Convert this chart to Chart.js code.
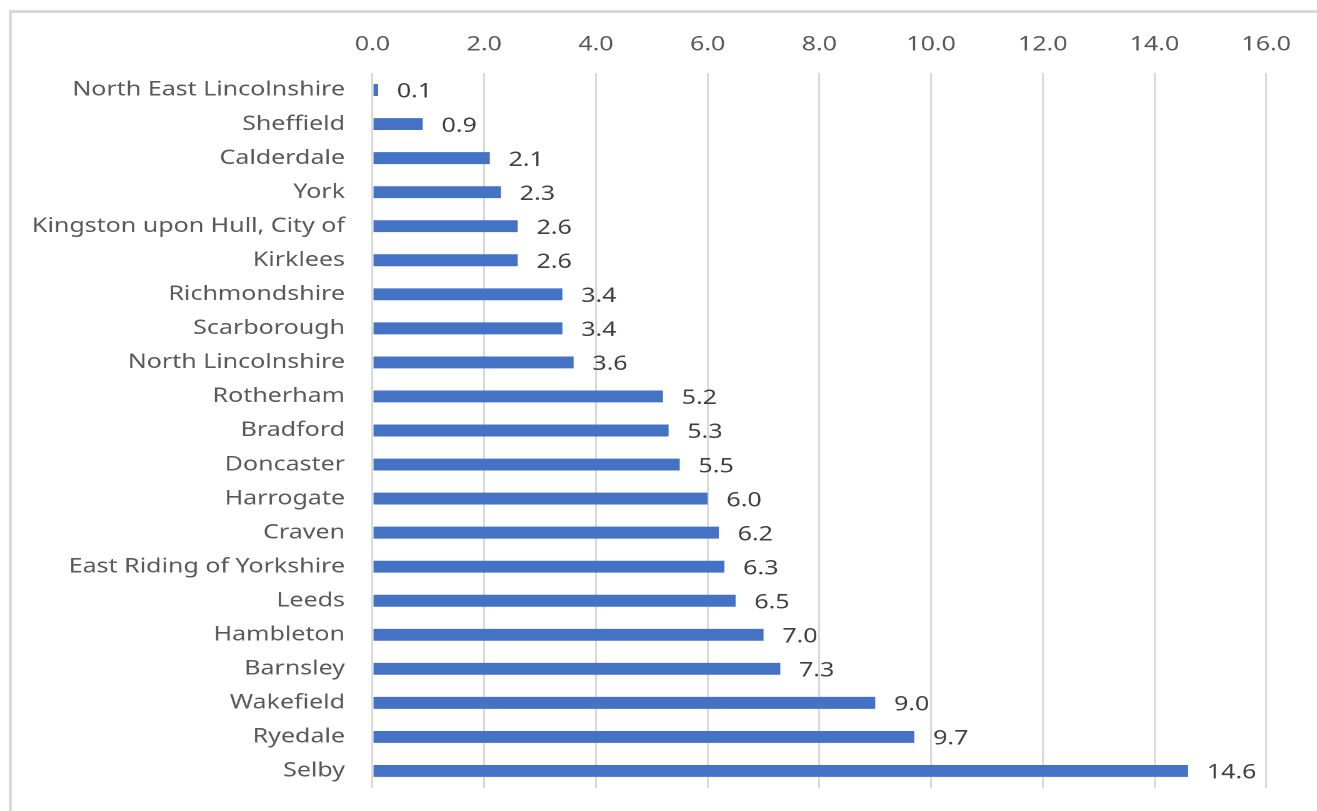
<!DOCTYPE html>
<html>
<head>
<meta charset="utf-8">
<script src="https://cdn.jsdelivr.net/npm/chart.js@4"></script>
<style>
  html, body { margin: 0; padding: 0; background: #fff; overflow: hidden; }
  #wrap { position: relative; width: 1317px; height: 811px; overflow: hidden; }
  #frame { position: absolute; left: 9px; top: 10px; width: 1320px; height: 820px;
           border-left: 3px solid #d9d9d9; border-top: 3px solid #d9d9d9; }
  #myChart { position: absolute; left: 0; top: 0;
             transform: scaleX(1.25); transform-origin: 0 0; }
</style>
</head>
<body>
<div id="wrap">
  <div id="frame"></div>
  <canvas id="myChart" width="1054" height="811"></canvas>
</div>
<script>
const areas = [
  "North East Lincolnshire", "Sheffield", "Calderdale", "York",
  "Kingston upon Hull, City of", "Kirklees", "Richmondshire", "Scarborough",
  "North Lincolnshire", "Rotherham", "Bradford", "Doncaster", "Harrogate",
  "Craven", "East Riding of Yorkshire", "Leeds", "Hambleton", "Barnsley",
  "Wakefield", "Ryedale", "Selby"
];
const valores = [
  0.1, 0.9, 2.1, 2.3, 2.6, 2.6, 3.4, 3.4, 3.6, 5.2, 5.3, 5.5, 6.0,
  6.2, 6.3, 6.5, 7.0, 7.3, 9.0, 9.7, 14.6
];
const xMin = 0;
const xMax = 16;
const xStep = 2;

const fuente = "'Noto Sans', 'DejaVu Sans', sans-serif";

// etiquetas de valor al final de cada barra
const etiquetas = {
  id: "etiquetas",
  afterDatasetsDraw(chart) {
    const ctx = chart.ctx;
    const meta = chart.getDatasetMeta(0);
    ctx.save();
    ctx.font = "20px " + fuente;
    ctx.fillStyle = "#404040";
    ctx.textAlign = "left";
    ctx.textBaseline = "middle";
    meta.data.forEach((bar, i) => {
      ctx.fillText(valores[i].toFixed(1), bar.x + 15, bar.y + 2);
    });
    ctx.restore();
  },
};

const chartContext = document.getElementById("myChart").getContext("2d");
const myChart = new Chart(chartContext, {
  type: "bar",
  data: {
    labels: areas,
    datasets: [
      {
        data: valores,
        backgroundColor: "#4472C4",
        borderWidth: 0,
        barPercentage: 0.35,
        categoryPercentage: 1.0,
      },
    ],
  },
  options: {
    indexAxis: "y",
    responsive: false,
    animation: false,
    devicePixelRatio: 2,
    layout: { padding: { left: 0, right: 41, top: 0, bottom: 23 } },
    plugins: {
      legend: { display: false },
      tooltip: { enabled: false },
    },
    scales: {
      x: {
        position: "top",
        min: xMin,
        max: xMax,
        afterFit: (scale) => { scale.height = 73; },
        ticks: {
          stepSize: xStep,
          padding: 16,
          color: "#595959",
          font: { size: 20, family: fuente },
          callback: (v) => Number(v).toFixed(1),
        },
        grid: { color: "#d9d9d9", lineWidth: 1.6, drawTicks: false },
        border: { display: false },
      },
      y: {
        afterFit: (scale) => {
          scale.width = 298;
          scale.paddingTop = 0;
          scale.paddingBottom = 0;
        },
        ticks: {
          padding: 22,
          color: "#595959",
          font: { size: 20, family: fuente },
        },
        grid: { display: false, drawTicks: false },
        border: { display: false },
      },
    },
  },
  plugins: [etiquetas],
});
</script>
</body>
</html>
